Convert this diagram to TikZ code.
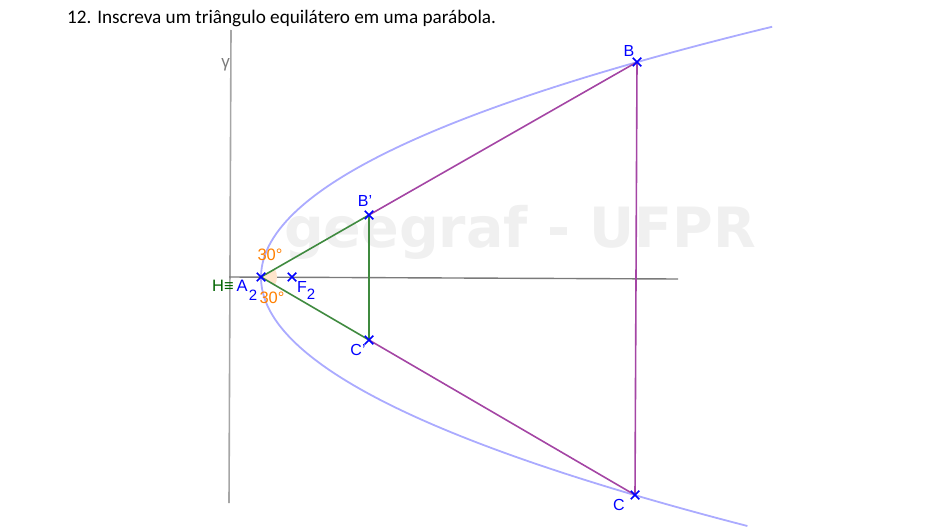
\documentclass[tikz,border=0pt]{standalone}
\usepackage{fontspec}
\setmainfont{Liberation Sans}
\newfontfamily\titlefont{Carlito}
\newfontfamily\markfont[BoldFont=DejaVu Sans Bold]{DejaVu Sans}
\usetikzlibrary{shapes.misc,backgrounds}
\definecolor{curveblue}{HTML}{ABABFF}
\definecolor{axisgray}{HTML}{A6A6A6}
\definecolor{axisdark}{HTML}{7A7A7A}
\definecolor{triGreen}{HTML}{3F8A3F}
\definecolor{triPurple}{HTML}{A445A4}
\definecolor{markBlue}{HTML}{0000FF}
\definecolor{angleOrange}{HTML}{FF7F00}
\definecolor{labelGreen}{HTML}{006400}
\tikzset{
	pointmark/.style={cross out,draw=markBlue,line width=1.5pt,minimum size=7pt,inner sep=0pt},
	ptlabel/.style={text=markBlue,font=\fontsize{16}{16}\selectfont,inner sep=0pt},
	subfont/.style={font=\fontsize{15}{15}\selectfont},
	anglabel/.style={text=angleOrange,font=\fontsize{16.5}{16.5}\selectfont,inner sep=0pt},
	greenline/.style={draw=triGreen,line width=1.6pt},
	purpleline/.style={draw=triPurple,line width=1.6pt},
}

\begin{document}
\begin{tikzpicture}[x=1pt,y=-1pt]
			\useasboundingbox (0,0) rectangle (950,527);
			\node[anchor=west,inner sep=0pt,font=\titlefont\fontsize{19.2}{19.2}\selectfont] (title) at (67,18) {12. Inscreva um triângulo equilátero em uma parábola.};

			\coordinate (y0) at (231,30);
			\coordinate (y1) at (229,503);
			\coordinate (e0) at (229,277);
			\coordinate (e1) at (678,279);
			\node[pointmark] (A) at (261,277) {};
			\node[pointmark] (F) at (292,277) {};
			\node[pointmark] (Bp) at (369,215) {};
			\node[pointmark] (Cp) at (369,340) {};
			\node[pointmark] (B) at (637,62) {};
			\node[pointmark] (C) at (635,495) {};

			\begin{scope}[on background layer]
			\node[text=black!6,font=\markfont\bfseries\fontsize{55.5}{55.5}\selectfont,inner sep=0pt] (mark) at (520,232) {geegraf - UFPR};
			% eixos e parabola
			\draw[axisgray,line width=1.6pt] (y0) -- (y1);
			\draw[axisdark,line width=1.4pt] (e0) -- (e1);
			\draw[curveblue,line width=1.8pt,smooth,samples=120,domain=-2.525:2.47]
				plot ({261+80*\x*\x-0.44*\x},{277+0.352*\x*\x+100*\x});

			% angulo
			\fill[angleOrange!20] (A.center) -- ++(-30:16) arc[start angle=-30,end angle=30,radius=16] -- cycle;

			\draw[greenline] (A.center) -- (Bp.center);
			\draw[greenline] (A.center) -- (Cp.center);
			\draw[greenline] (Bp.center) -- (Cp.center);
			\draw[purpleline] (Bp.center) -- (B.center);
			\draw[purpleline] (B.center) -- (C.center);
			\draw[purpleline] (C.center) -- (Cp.center);
			\end{scope}

			% rotulos
			\node[text=axisdark,inner sep=0pt,font=\fontsize{17}{17}\selectfont] (ylabel) at (225.5,65) {γ};
			\node[ptlabel] (Blabel) at (629,50.5) {B};
			\node[ptlabel] (Clabel) at (619,505) {C};
			\node[ptlabel] (Bplabel) at (365,201) {B'};
			\node[ptlabel] (Cplabel) at (358,350) {C'};
			\node[ptlabel,anchor=west] (Flabel) at (297,287) {F};
			\node[ptlabel,subfont] (Fsub) at (311,294) {2};
			\node[inner sep=0pt,anchor=west,font=\fontsize{16.5}{16.5}\selectfont] (Alabel) at (212,286) {\textcolor{labelGreen}{H≡}\hspace{3pt}\textcolor{markBlue}{A}};
			\node[ptlabel,subfont] (Asub) at (253,295) {2};
			\node[anglabel] (angup) at (270,255) {30°};
			\node[anglabel] (angdown) at (272,298) {30°};
			\end{tikzpicture}
\end{document}
